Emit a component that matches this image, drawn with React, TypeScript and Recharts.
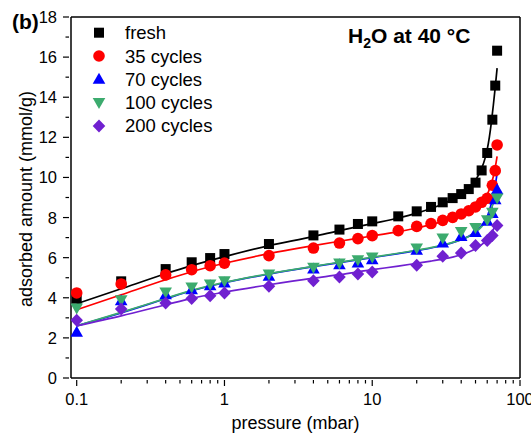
import React from 'react';
import { ComposedChart, Line, Scatter, XAxis, YAxis, ReferenceLine } from 'recharts';

const FONT = '"Liberation Sans", Arial, Helvetica, sans-serif';

// measured points, pressure in mbar
const pFresh = [0.1, 0.2, 0.4, 0.6, 0.8, 1, 2, 4, 6, 8, 10, 15, 20, 25, 30, 35, 40, 45, 50, 55, 60, 65, 68, 70];
const vFresh = [3.95, 4.82, 5.43, 5.77, 5.98, 6.18, 6.68, 7.11, 7.4, 7.68, 7.81, 8.06, 8.31, 8.53, 8.76, 8.97, 9.17, 9.42, 9.74, 10.35, 11.22, 12.88, 14.58, 16.32];
const v35 = [4.24, 4.69, 5.14, 5.4, 5.6, 5.73, 6.1, 6.48, 6.73, 6.95, 7.1, 7.35, 7.56, 7.7, 7.86, 8.01, 8.18, 8.34, 8.53, 8.76, 8.96, 9.61, 10.34, 11.62];

const p70 = [0.1, 0.2, 0.4, 0.6, 0.8, 1, 2, 4, 6, 8, 10, 20, 30, 40, 50, 60, 65, 68, 70];
const v70 = [2.28, 3.85, 4.15, 4.4, 4.6, 4.74, 5.07, 5.43, 5.65, 5.73, 5.9, 6.37, 6.73, 7.06, 7.26, 7.81, 8.2, 8.89, 9.39];

const p100 = [0.1, 0.2, 0.4, 0.6, 0.8, 1, 2, 4, 6, 8, 10, 20, 30, 40, 50, 60, 65, 70];
const v100 = [3.49, 3.9, 4.29, 4.54, 4.69, 4.85, 5.19, 5.52, 5.73, 5.9, 6.03, 6.48, 6.98, 7.31, 7.51, 7.89, 8.26, 8.97];
const v200 = [2.88, 3.44, 3.74, 3.96, 4.1, 4.24, 4.57, 4.85, 5.04, 5.19, 5.28, 5.62, 6.07, 6.23, 6.61, 6.86, 7.1, 7.6];

// fitted curves
const pFit = [0.1, 0.2, 0.4, 0.6, 1, 2, 4, 6, 10, 15, 20, 25, 30, 35, 40, 45, 50, 55, 58, 60, 62, 64, 66, 68, 70];
const fitFresh = [3.7, 4.45, 5.2, 5.6, 6.05, 6.6, 7.05, 7.35, 7.7, 7.98, 8.22, 8.45, 8.68, 8.9, 9.12, 9.4, 9.85, 10.45, 10.95, 11.4, 12.0, 12.75, 13.6, 14.5, 15.45];
const fit35 = [3.4, 4.15, 4.9, 5.3, 5.72, 6.2, 6.6, 6.82, 7.08, 7.3, 7.48, 7.65, 7.8, 7.95, 8.12, 8.3, 8.5, 8.78, 8.98, 9.15, 9.4, 9.7, 10.05, 10.5, 11.05];
const fit70 = [2.6, 3.25, 3.95, 4.35, 4.75, 5.18, 5.55, 5.75, 6.0, 6.2, 6.35, 6.48, 6.62, 6.75, 6.9, 7.07, 7.3, 7.6, 7.85, 8.05, 8.35, 8.7, 9.1, 9.6, 10.2];
const fit100 = [2.6, 3.27, 3.97, 4.37, 4.77, 5.2, 5.57, 5.77, 6.02, 6.22, 6.37, 6.5, 6.63, 6.76, 6.9, 7.06, 7.27, 7.55, 7.78, 7.96, 8.2, 8.45, 8.7, 9.0, 9.35];
const fit200 = [2.6, 3.1, 3.65, 3.97, 4.28, 4.65, 4.98, 5.15, 5.4, 5.58, 5.72, 5.83, 5.93, 6.03, 6.15, 6.28, 6.45, 6.65, 6.8, 6.92, 7.07, 7.22, 7.4, 7.6, 7.8];

const xTicks = [0.1, 0.2, 0.3, 0.4, 0.5, 0.6, 0.7, 0.8, 0.9, 1, 2, 3, 4, 5, 6, 7, 8, 9, 10, 20, 30, 40, 50, 60, 70, 80, 90, 100];
const xMajor = [0.1, 1, 10, 100];
const yTicks = [0, 1, 2, 3, 4, 5, 6, 7, 8, 9, 10, 11, 12, 13, 14, 15, 16, 17, 18];

const pts = (ps: number[], vs: number[]) => ps.map((p, i) => ({ p, v: vs[i] }));

type Kind = 'square' | 'circle' | 'up' | 'down' | 'diamond';

const series: { name: string; color: string; kind: Kind; points: any[]; fit: any[] }[] = [
  { name: 'fresh', color: '#000000', kind: 'square', points: pts(pFresh, vFresh), fit: pts(pFit, fitFresh) },
  { name: '35 cycles', color: '#ff0000', kind: 'circle', points: pts(pFresh, v35), fit: pts(pFit, fit35) },
  { name: '70 cycles', color: '#0000ff', kind: 'up', points: pts(p70, v70), fit: pts(pFit, fit70) },
  { name: '100 cycles', color: '#3cab6e', kind: 'down', points: pts(p100, v100), fit: pts(pFit, fit100) },
  { name: '200 cycles', color: '#7020d0', kind: 'diamond', points: pts(p100, v200), fit: pts(pFit, fit200) },
];

function Marker({ cx, cy, kind, color }: { cx: number; cy: number; kind: Kind; color: string }) {
  if (cx == null || cy == null) return null;
  switch (kind) {
    case 'square':
      return <rect x={cx - 5} y={cy - 5} width={10} height={10} fill={color} />;
    case 'circle':
      return <circle cx={cx} cy={cy} r={5.8} fill={color} />;
    case 'up':
      return <polygon points={`${cx},${cy - 6.5} ${cx + 6.3},${cy + 4.5} ${cx - 6.3},${cy + 4.5}`} fill={color} />;
    case 'down':
      return <polygon points={`${cx},${cy + 6.5} ${cx + 6.3},${cy - 4.5} ${cx - 6.3},${cy - 4.5}`} fill={color} />;
    default:
      return <polygon points={`${cx},${cy - 6.5} ${cx + 6.3},${cy} ${cx},${cy + 6.5} ${cx - 6.3},${cy}`} fill={color} />;
  }
}

const XTick = (props: any) => {
  const { x, y, payload } = props;
  const major = xMajor.includes(payload.value);
  return (
    <g>
      <line x1={x} y1={y} x2={x} y2={y + (major ? 6 : 3.5)} stroke="#000" strokeWidth={1.2} />
      {major && (
        <text x={x} y={y + 25} textAnchor="middle" fontSize={16.5} fill="#000">
          {String(payload.value)}
        </text>
      )}
    </g>
  );
};

const YTick = (props: any) => {
  const { x, y, payload } = props;
  const major = payload.value % 2 === 0;
  return (
    <g>
      <line x1={x - (major ? 6 : 3.5)} y1={y} x2={x} y2={y} stroke="#000" strokeWidth={1.2} />
      {major && (
        <text x={x - 12} y={y + 6} textAnchor="end" fontSize={16.5} fill="#000">
          {payload.value}
        </text>
      )}
    </g>
  );
};

export default function App() {
  return (
    <div style={{ position: 'absolute', left: 0, top: 0, width: 531, height: 434, fontFamily: FONT, background: '#fff' }}>
      <ComposedChart width={531} height={434} margin={{ top: 17, right: 11, bottom: 0, left: 0 }}>
        <XAxis
          type="number"
          dataKey="p"
          scale="log"
          domain={[0.0915, 100]}
          allowDataOverflow
          ticks={xTicks}
          interval={0}
          tickLine={false}
          tickSize={0}
          tick={<XTick />}
          height={56}
          axisLine={{ stroke: '#000', strokeWidth: 1.5 }}
        />
        <YAxis
          type="number"
          dataKey="v"
          domain={[0, 18]}
          ticks={yTicks}
          interval={0}
          tickLine={false}
          tickSize={0}
          tick={<YTick />}
          width={71}
          axisLine={{ stroke: '#000', strokeWidth: 1.5 }}
        />
        <ReferenceLine y={18} stroke="#000" strokeWidth={1.5} />
        <ReferenceLine x={100} stroke="#000" strokeWidth={1.5} />
        {series.map((s) => (
          <Line
            key={`fit-${s.name}`}
            data={s.fit}
            dataKey="v"
            type="monotone"
            stroke={s.color}
            strokeWidth={1.7}
            dot={false}
            activeDot={false}
            isAnimationActive={false}
            legendType="none"
          />
        ))}
        {series.map((s) => (
          <Scatter
            key={`pts-${s.name}`}
            name={s.name}
            data={s.points}
            dataKey="v"
            fill={s.color}
            isAnimationActive={false}
            shape={(props: any) => <Marker cx={props.cx} cy={props.cy} kind={s.kind} color={s.color} />}
          />
        ))}
      </ComposedChart>
      <svg width={531} height={434} style={{ position: 'absolute', left: 0, top: 0, pointerEvents: 'none' }}>
        <text x={12} y={28.5} fontSize={21} fontWeight="bold" fill="#000">(b)</text>
        <text x={348} y={43} fontSize={21} fontWeight="bold" fill="#000">
          H<tspan fontSize={14} dy={5}>2</tspan>
          <tspan dy={-5}>O at 40 °C</tspan>
        </text>
        {series.map((s, i) => {
          const cy = 32.7 + i * 23.3;
          return (
            <g key={s.name}>
              <Marker cx={99} cy={cy} kind={s.kind} color={s.color} />
              <text x={125} y={cy + 6.5} fontSize={18.5} fill="#000">{s.name}</text>
            </g>
          );
        })}
        <text transform="rotate(-90)" x={-199} y={31.5} textAnchor="middle" fontSize={18} fill="#000">
          adsorbed amount (mmol/g)
        </text>
        <text x={295.5} y={429} textAnchor="middle" fontSize={18} fill="#000">pressure (mbar)</text>
      </svg>
    </div>
  );
}
